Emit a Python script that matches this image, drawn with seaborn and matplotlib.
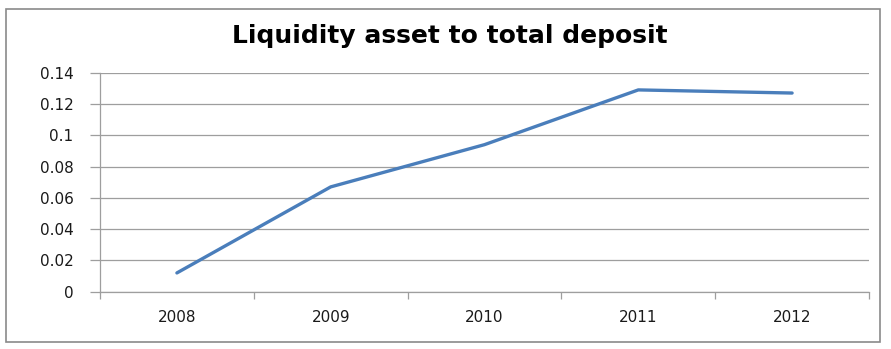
import matplotlib
matplotlib.use("Agg")
import matplotlib.pyplot as plt
from matplotlib.patches import Rectangle
from matplotlib.ticker import FixedLocator
import seaborn as sns
import pandas as pd

years = ["2008", "2009", "2010", "2011", "2012"]
ratio = [0.012, 0.067, 0.094, 0.129, 0.127]
y_ticks = [0, 0.02, 0.04, 0.06, 0.08, 0.1, 0.12, 0.14]
y_labels = ["0", "0.02", "0.04", "0.06", "0.08", "0.1", "0.12", "0.14"]
title = "Liquidity asset to total deposit"

sns.set_theme(style="white")
plt.rcParams["font.family"] = ["DejaVu Sans"]

df = pd.DataFrame({"year": years, "ratio": ratio})

fig = plt.figure(figsize=(8.91, 3.49), dpi=100)
ax = fig.add_axes([100 / 891, 1 - 291.7 / 349, 769 / 891, 219 / 349])

sns.lineplot(data=df, x="year", y="ratio", ax=ax, color="#4a7ebb", linewidth=2.4, sort=False)

grid_c = "#9e9e9e"
ax.set_xlim(-0.5, len(years) - 0.5)
ax.set_ylim(0, 0.14)
ax.set_yticks(y_ticks)
ax.set_yticklabels(y_labels)
ax.yaxis.grid(True, color=grid_c, linewidth=0.9)
ax.xaxis.grid(False)
ax.set_xlabel("")
ax.set_ylabel("")

for s in ["top", "right"]:
    ax.spines[s].set_visible(False)
for s in ["left", "bottom"]:
    ax.spines[s].set_color(grid_c)
    ax.spines[s].set_linewidth(0.9)

ax.tick_params(axis="y", which="major", left=True, length=7, width=0.9, color=grid_c,
               pad=12, labelsize=11, labelcolor="#1a1a1a")
ax.tick_params(axis="x", which="major", bottom=False, length=0, pad=13, labelsize=11,
               labelcolor="#1a1a1a")
ax.xaxis.set_minor_locator(FixedLocator([i - 0.5 for i in range(len(years) + 1)]))
ax.tick_params(axis="x", which="minor", bottom=True, length=5, width=0.9, color=grid_c)

fig.text(449.5 / 891, 1 - 43 / 349, title, ha="center", va="baseline",
         fontsize=18, fontweight="bold", color="#000000")

fig.patches.append(Rectangle((6 / 891, 1 - 341.5 / 349), 873.5 / 891, 333 / 349,
                             transform=fig.transFigure, fill=False,
                             edgecolor="#8a8a8a", linewidth=1.2))

fig.savefig("out.png", dpi=100)
